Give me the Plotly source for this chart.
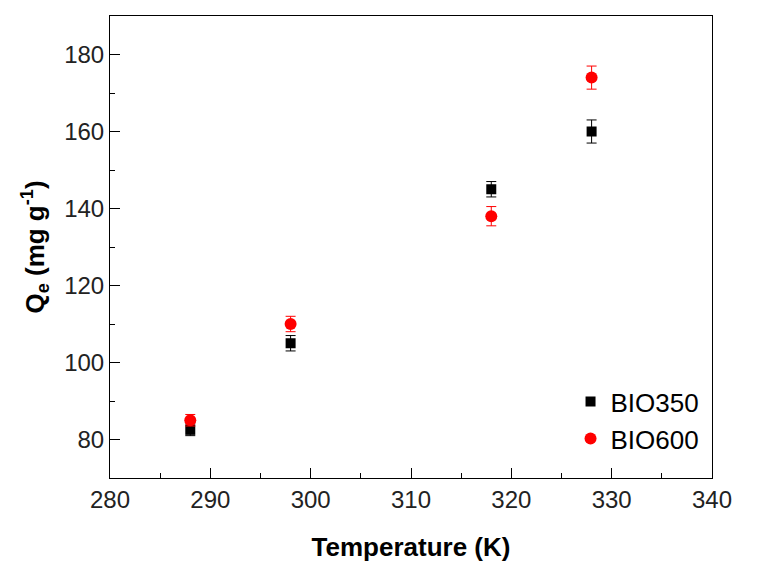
import plotly.graph_objects as go

# Adsorption capacity vs temperature for two biochars
temperature = [288, 298, 318, 328]
bio350_qe = [82.5, 105, 145, 160]
bio350_err = [1.5, 2, 2, 3]
bio600_qe = [85, 110, 138, 174]
bio600_err = [1.5, 2, 2.5, 3]

font_family = "Liberation Sans, Arial, sans-serif"

fig = go.Figure()
fig.add_trace(go.Scatter(
    x=temperature, y=bio350_qe, mode="markers", name="BIO350",
    marker=dict(symbol="square", size=10, color="black"),
    error_y=dict(type="data", array=bio350_err, color="black", thickness=1, width=5),
))
fig.add_trace(go.Scatter(
    x=temperature, y=bio600_qe, mode="markers", name="BIO600",
    marker=dict(symbol="circle", size=12, color="#ff0000"),
    error_y=dict(type="data", array=bio600_err, color="#ff0000", thickness=1, width=5),
))

axis_common = dict(
    showline=True, linecolor="black", linewidth=1, mirror=True,
    ticks="inside", ticklen=10, tickwidth=1, tickcolor="black",
    showgrid=False, zeroline=False, automargin=False,
    tickfont=dict(family=font_family, size=24, color="#222"),
)

fig.update_xaxes(
    range=[280, 340], dtick=10, tick0=280,
    minor=dict(ticks="inside", ticklen=5, dtick=5, tick0=280, tickcolor="black"),
    title=dict(text="<b>Temperature (K)</b>", standoff=26,
               font=dict(family=font_family, size=26, color="black")),
    **axis_common,
)
fig.update_yaxes(
    range=[70, 190], dtick=20, tick0=80,
    minor=dict(ticks="inside", ticklen=5, dtick=10, tick0=80, tickcolor="black"),
    title=dict(text="<b>Q<sub>e</sub> (mg g<sup>-1</sup>)</b>", standoff=12,
               font=dict(family=font_family, size=26, color="black")),
    **axis_common,
)

fig.update_layout(
    width=761, height=562,
    margin=dict(l=110, r=49, t=16, b=84),
    paper_bgcolor="white", plot_bgcolor="white",
    showlegend=True,
    legend=dict(x=0.765, y=0.216, xanchor="left", yanchor="top",
                bgcolor="rgba(0,0,0,0)",
                font=dict(family=font_family, size=26, color="black")),
)

fig.write_html("out.html")
